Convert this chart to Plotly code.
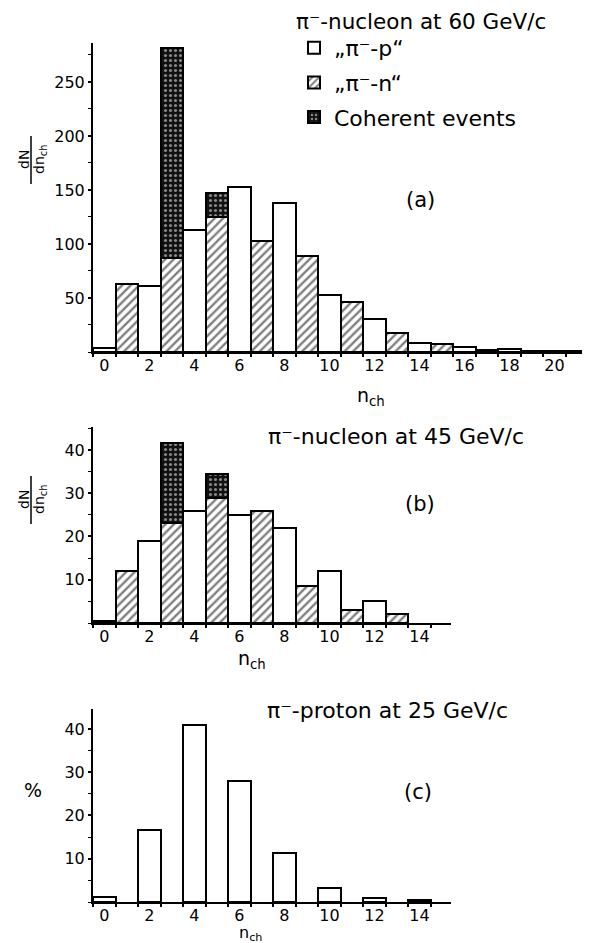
import plotly.graph_objects as go

# ---------------- data ----------------
# Panel (a): pi- nucleon at 60 GeV/c
a_p_n = [0, 2, 4, 6, 8, 10, 12, 14, 16, 18, 20]
a_p_val = [4, 61, 113, 153, 138, 53, 31, 8, 5, 3, 1]
a_n_n = [1, 3, 5, 7, 9, 11, 13, 15, 17, 19, 21]
a_n_val = [63, 87, 125, 103, 89, 46, 18, 7, 2, 1, 1]
a_coh_n = [3, 5]
a_coh_val = [194, 22]

# Panel (b): pi- nucleon at 45 GeV/c
b_p_n = [0, 2, 4, 6, 8, 10, 12]
b_p_val = [0.5, 19, 26, 25, 22, 12, 5]
b_n_n = [1, 3, 5, 7, 9, 11, 13]
b_n_val = [12, 23, 29, 26, 8.5, 3, 2]
b_coh_n = [3, 5]
b_coh_val = [18.5, 5.5]

# Panel (c): pi- proton at 25 GeV/c (%)
c_n = [0, 2, 4, 6, 8, 10, 12, 14]
c_val = [1.1, 16.6, 40.8, 27.9, 11.4, 3.2, 0.9, 0.4]

a_xticks = [0, 2, 4, 6, 8, 10, 12, 14, 16, 18, 20]
bc_xticks = [0, 2, 4, 6, 8, 10, 12, 14]
a_yticks = [50, 100, 150, 200, 250]
bc_yticks = [10, 20, 30, 40]

# ---------------- styles ----------------
OFF = 8                      # page body margin
W, H = 590 - OFF, 943 - OFF  # figure size so that it fits the window
FONT = "DejaVu Sans"
LINE = dict(color="black", width=2)

def px(x):
    return (x - OFF) / W

def py(y):
    return 1 - (y - OFF) / H

white_marker = dict(color="white", line=LINE)
hatch_marker = dict(color="white", line=LINE,
                    pattern=dict(shape="/", fgcolor="black", bgcolor="white",
                                 size=6, solidity=0.4))
coh_marker = dict(color="black", line=LINE,
                  pattern=dict(shape=".", fgcolor="white", bgcolor="#111111",
                               size=5, solidity=0.3))

fig = go.Figure()

# panel a
fig.add_trace(go.Bar(x=a_p_n, y=a_p_val, width=1, marker=white_marker,
                     name="„π⁻-p“", legendgroup="p", xaxis="x", yaxis="y"))
fig.add_trace(go.Bar(x=a_n_n, y=a_n_val, width=1, marker=hatch_marker,
                     name="„π⁻-n“", legendgroup="n", xaxis="x", yaxis="y"))
fig.add_trace(go.Bar(x=a_coh_n, y=a_coh_val, width=1, marker=coh_marker,
                     name="Coherent events", legendgroup="c", xaxis="x", yaxis="y"))
# panel b
fig.add_trace(go.Bar(x=b_p_n, y=b_p_val, width=1, marker=white_marker,
                     showlegend=False, xaxis="x2", yaxis="y2"))
fig.add_trace(go.Bar(x=b_n_n, y=b_n_val, width=1, marker=hatch_marker,
                     showlegend=False, xaxis="x2", yaxis="y2"))
fig.add_trace(go.Bar(x=b_coh_n, y=b_coh_val, width=1, marker=coh_marker,
                     showlegend=False, xaxis="x2", yaxis="y2"))
# panel c
fig.add_trace(go.Bar(x=c_n, y=c_val, width=1, marker=white_marker,
                     showlegend=False, xaxis="x3", yaxis="y3"))

tickfont = dict(family=FONT, size=16, color="black")

def xaxis(domain, rng, ticks, anchor):
    return dict(domain=domain, range=rng, anchor=anchor, tickvals=ticks,
                showline=True, linecolor="black", linewidth=2,
                ticks="", ticklabelstandoff=-2,
                minor=dict(dtick=1, tick0=0.5, ticks="outside", ticklen=3,
                           tickwidth=1.5, tickcolor="black"),
                showgrid=False, zeroline=False, tickfont=tickfont)

def yaxis(domain, rng, ticks, anchor, minor_dtick):
    return dict(domain=domain, range=rng, anchor=anchor, tickvals=ticks,
                showline=True, linecolor="black", linewidth=2,
                ticks="outside", ticklen=3, tickwidth=1.5, tickcolor="black",
                ticklabelstandoff=0,
                minor=dict(dtick=minor_dtick, ticks="outside", ticklen=3,
                           tickwidth=1.2, tickcolor="black"),
                showgrid=False, zeroline=False, tickfont=tickfont)

xa_dom = [px(93), px(586)]
xbc_dom = [px(93), px(451)]

fig.update_layout(
    width=W, height=H,
    margin=dict(l=0, r=0, t=0, b=0),
    paper_bgcolor="white", plot_bgcolor="white",
    barmode="stack", bargap=0,
    font=dict(family=FONT, size=16, color="black"),
    xaxis=xaxis(xa_dom, [-0.5, 21.4], a_xticks, "y"),
    yaxis=yaxis([py(352), py(43)], [0, 286], a_yticks, "x", 25),
    xaxis2=xaxis(xbc_dom, [-0.5, 15.4], bc_xticks, "y2"),
    yaxis2=yaxis([py(623), py(427)], [0, 45.3], bc_yticks, "x2", 5),
    xaxis3=xaxis(xbc_dom, [-0.5, 15.4], bc_xticks, "y3"),
    yaxis3=yaxis([py(902), py(709)], [0, 44.6], bc_yticks, "x3", 5),
    legend=dict(x=px(294), y=py(27), xanchor="left", yanchor="top",
                font=dict(family=FONT, size=22), tracegroupgap=3,
                bgcolor="rgba(0,0,0,0)", itemwidth=30),
)

ann = []
def text(x, y, s, size=17, angle=0, xanchor="center"):
    ann.append(dict(x=px(x), y=py(y), xref="paper", yref="paper", text=s,
                    showarrow=False, textangle=angle, xanchor=xanchor,
                    yanchor="middle", font=dict(family=FONT, size=size, color="black")))

text(294, 21, "π⁻-nucleon at 60 GeV/c", 21.5, xanchor="left")
text(420, 200, "(a)", 21)
text(371, 396, "n<sub>ch</sub>", 19)
text(266, 437, "π⁻-nucleon at 45 GeV/c", 22, xanchor="left")
text(420, 504, "(b)", 21)
text(252, 659, "n<sub>ch</sub>", 19)
text(265, 710, "π⁻-proton at 25 GeV/c", 22, xanchor="left")
text(418, 792, "(c)", 21)
text(250, 933, "n<sub>ch</sub>", 16)
text(33, 790, "%", 19)

shapes = []
for cy in (160, 500):
    text(24, cy, "dN", 14, angle=-90)
    text(40, cy, "dn<sub>ch</sub>", 14, angle=-90)
    shapes.append(dict(type="line", xref="paper", yref="paper",
                       x0=px(31), x1=px(31), y0=py(cy - 24), y1=py(cy + 24),
                       line=dict(color="black", width=1.5)))

fig.update_layout(annotations=ann, shapes=shapes)
fig.write_html("out.html")
